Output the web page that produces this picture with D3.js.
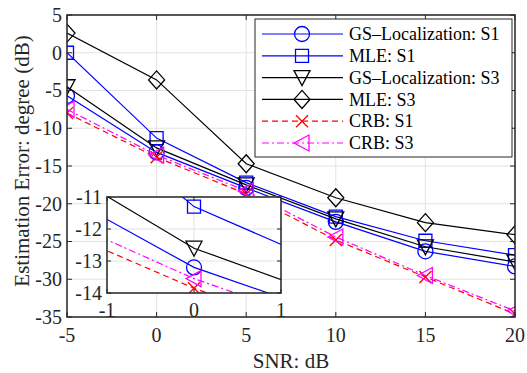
<!DOCTYPE html>
<html>
<head>
<meta charset="utf-8">
<script src="https://cdn.jsdelivr.net/npm/d3@7"></script>
<style>
  body { margin: 0; background: #fff; }
  svg { display: block; }
</style>
</head>
<body>
<script>
(function() {

  /* chart data */
  var snr = [-5, 0, 5, 10, 15, 20];
  var gsS1  = [-5.7, -13.2, -17.9, -22.4, -26.3, -28.3];
  var mleS1 = [0.0, -11.3, -17.2, -21.7, -24.9, -26.8];
  var gsS3  = [-4.5, -12.6, -17.5, -22.0, -25.7, -27.7];
  var mleS3 = [2.6, -3.6, -14.7, -19.2, -22.5, -24.1];
  var crbS1 = [-8.0, -13.85, -18.7, -24.8, -29.7, -34.6];
  var crbS3 = [-7.5, -13.55, -18.3, -24.4, -29.5, -34.2];

  var xTicks = [-5, 0, 5, 10, 15, 20];
  var yTicks = [-35, -30, -25, -20, -15, -10, -5, 0, 5];
  var insetXTicks = [-1, 0, 1];
  var insetYTicks = [-14, -13, -12, -11];

  var seriesNames = ["GS\u2013Localization: S1", "MLE: S1", "GS\u2013Localization: S3",
                     "MLE: S3", "CRB: S1", "CRB: S3"];
  var seriesValues = [gsS1, mleS1, gsS3, mleS3, crbS1, crbS3];

  // style per series
  var styles = [
    {color: "#0000ff", dash: null, marker: "circle"},
    {color: "#0000ff", dash: null, marker: "square"},
    {color: "#000000", dash: null, marker: "triDown"},
    {color: "#000000", dash: null, marker: "diamond"},
    {color: "#ff0000", dash: "6,4", marker: "cross"},
    {color: "#ff00ff", dash: "7,3,2,3", marker: "triLeft"}
  ];

  var series = seriesNames.map(function(name, i) {
    return {name: name, style: styles[i],
            points: snr.map(function(s, j) { return {x: s, y: seriesValues[i][j]}; })};
  });

  var W = 527, H = 373;
  var axisColor = "#262626", gridColor = "#e3e3e3";
  var serif = "'Liberation Serif', Tinos, 'Times New Roman', Times, serif";

  var svg = d3.select("body").append("svg")
      .attr("width", W)
      .attr("height", H)
      .attr("font-family", serif);

  /* marker path generator (centered at 0,0) */
  function markerPath(type) {
    var p = d3.path();
    if (type === "circle") {
      p.arc(0, 0, 7.5, 0, 2 * Math.PI);
    } else if (type === "square") {
      p.rect(-6.5, -6.5, 13, 13);
    } else if (type === "triDown") {
      p.moveTo(-8, -7); p.lineTo(8, -7); p.lineTo(0, 8); p.closePath();
    } else if (type === "diamond") {
      p.moveTo(0, -9); p.lineTo(8, 0); p.lineTo(0, 9); p.lineTo(-8, 0); p.closePath();
    } else if (type === "cross") {
      p.moveTo(-6, -6); p.lineTo(6, 6); p.moveTo(-6, 6); p.lineTo(6, -6);
    } else if (type === "triLeft") {
      p.moveTo(-8, 0); p.lineTo(7, -8); p.lineTo(7, 8); p.closePath();
    }
    return p.toString();
  }

  function fmt(d) { return d < 0 ? "-" + Math.abs(d) : String(d); }

  /* draw an axes box with grid, ticks and data */
  function drawAxes(g, x, y, xt, yt, opts) {
    var x0 = x.range()[0], x1 = x.range()[1];
    var y0 = y.range()[0], y1 = y.range()[1];

    g.append("rect")
        .attr("x", x0).attr("y", y1)
        .attr("width", x1 - x0).attr("height", y0 - y1)
        .attr("fill", "#fff");

    // grid
    g.selectAll(".vgrid").data(xt).enter().append("line")
        .attr("x1", function(d) { return x(d); }).attr("x2", function(d) { return x(d); })
        .attr("y1", y0).attr("y2", y1)
        .attr("stroke", gridColor).attr("stroke-width", 1);
    g.selectAll(".hgrid").data(yt).enter().append("line")
        .attr("y1", function(d) { return y(d); }).attr("y2", function(d) { return y(d); })
        .attr("x1", x0).attr("x2", x1)
        .attr("stroke", gridColor).attr("stroke-width", 1);

    // data, clipped to the box
    var clipId = opts.id + "-clip";
    g.append("clipPath").attr("id", clipId).append("rect")
        .attr("x", x0).attr("y", y1)
        .attr("width", x1 - x0).attr("height", y0 - y1);

    var plot = g.append("g").attr("clip-path", "url(#" + clipId + ")");
    var line = d3.line().x(function(d) { return x(d.x); }).y(function(d) { return y(d.y); });

    series.forEach(function(s) {
      var sg = plot.append("g");
      sg.append("path")
          .attr("d", line(s.points))
          .attr("fill", "none")
          .attr("stroke", s.style.color)
          .attr("stroke-width", 1.2)
          .attr("stroke-dasharray", s.style.dash);
      sg.selectAll(".mk").data(s.points).enter().append("path")
          .attr("transform", function(d) { return "translate(" + x(d.x) + "," + y(d.y) + ")"; })
          .attr("d", markerPath(s.style.marker))
          .attr("fill", "none")
          .attr("stroke", s.style.color)
          .attr("stroke-width", 1.3);
    });

    // box
    g.append("rect")
        .attr("x", x0).attr("y", y1)
        .attr("width", x1 - x0).attr("height", y0 - y1)
        .attr("fill", "none").attr("stroke", axisColor).attr("stroke-width", 1.5);

    // inner ticks
    var tl = opts.tick;
    xt.forEach(function(d) {
      g.append("line").attr("x1", x(d)).attr("x2", x(d)).attr("y1", y0).attr("y2", y0 - tl)
          .attr("stroke", axisColor);
      g.append("line").attr("x1", x(d)).attr("x2", x(d)).attr("y1", y1).attr("y2", y1 + tl)
          .attr("stroke", axisColor);
    });
    yt.forEach(function(d) {
      g.append("line").attr("y1", y(d)).attr("y2", y(d)).attr("x1", x0).attr("x2", x0 + tl)
          .attr("stroke", axisColor);
      g.append("line").attr("y1", y(d)).attr("y2", y(d)).attr("x1", x1).attr("x2", x1 - tl)
          .attr("stroke", axisColor);
    });

    // tick labels
    g.selectAll(".xl").data(xt).enter().append("text")
        .attr("x", function(d) { return x(d); })
        .attr("y", y0 + opts.xlabOff)
        .attr("text-anchor", "middle")
        .attr("font-size", 20)
        .attr("fill", axisColor)
        .text(fmt);
    g.selectAll(".yl").data(yt).enter().append("text")
        .attr("x", x0 - opts.ylabOff)
        .attr("y", function(d) { return y(d); })
        .attr("dy", "0.34em")
        .attr("text-anchor", "end")
        .attr("font-size", 20)
        .attr("fill", axisColor)
        .text(fmt);
  }

  /* main axes */
  var x = d3.scaleLinear().domain([-5, 20]).range([67, 515]);
  var y = d3.scaleLinear().domain([-35, 5]).range([317, 15]);
  drawAxes(svg.append("g"), x, y, xTicks, yTicks, {id: "main", tick: 5, xlabOff: 25, ylabOff: 5});

  svg.append("text")
      .attr("x", (67 + 515) / 2)
      .attr("y", 368)
      .attr("text-anchor", "middle")
      .attr("font-size", 21)
      .attr("fill", axisColor)
      .text("SNR: dB");

  svg.append("text")
      .attr("transform", "translate(29," + 161 + ")rotate(-90)")
      .attr("text-anchor", "middle")
      .attr("font-size", 21)
      .attr("fill", axisColor)
      .text("Estimation Error: degree (dB)");

  /* legend */
  var leg = svg.append("g");
  leg.append("rect")
      .attr("x", 255).attr("y", 19)
      .attr("width", 257).attr("height", 138)
      .attr("fill", "#fff").attr("stroke", axisColor).attr("stroke-width", 1);

  var rowY = d3.scalePoint().domain(d3.range(series.length)).range([34, 143]);
  series.forEach(function(s, i) {
    var ly = rowY(i);
    leg.append("line")
        .attr("x1", 262).attr("x2", 343).attr("y1", ly).attr("y2", ly)
        .attr("stroke", s.style.color).attr("stroke-width", 1.2)
        .attr("stroke-dasharray", s.style.dash);
    leg.append("path")
        .attr("transform", "translate(302," + ly + ")")
        .attr("d", markerPath(s.style.marker))
        .attr("fill", "none").attr("stroke", s.style.color).attr("stroke-width", 1.3);
    leg.append("text")
        .attr("x", 349).attr("y", ly).attr("dy", "0.34em")
        .attr("font-size", 18)
        .attr("fill", "#000")
        .text(s.name);
  });

  /* zoomed inset */
  var ix = d3.scaleLinear().domain([-1, 1]).range([107, 281]);
  var iy = d3.scaleLinear().domain([-14, -11]).range([293, 197]);
  drawAxes(svg.append("g"), ix, iy, insetXTicks, insetYTicks, {id: "inset", tick: 4, xlabOff: 24, ylabOff: 5});

})();
</script>
</body>
</html>
